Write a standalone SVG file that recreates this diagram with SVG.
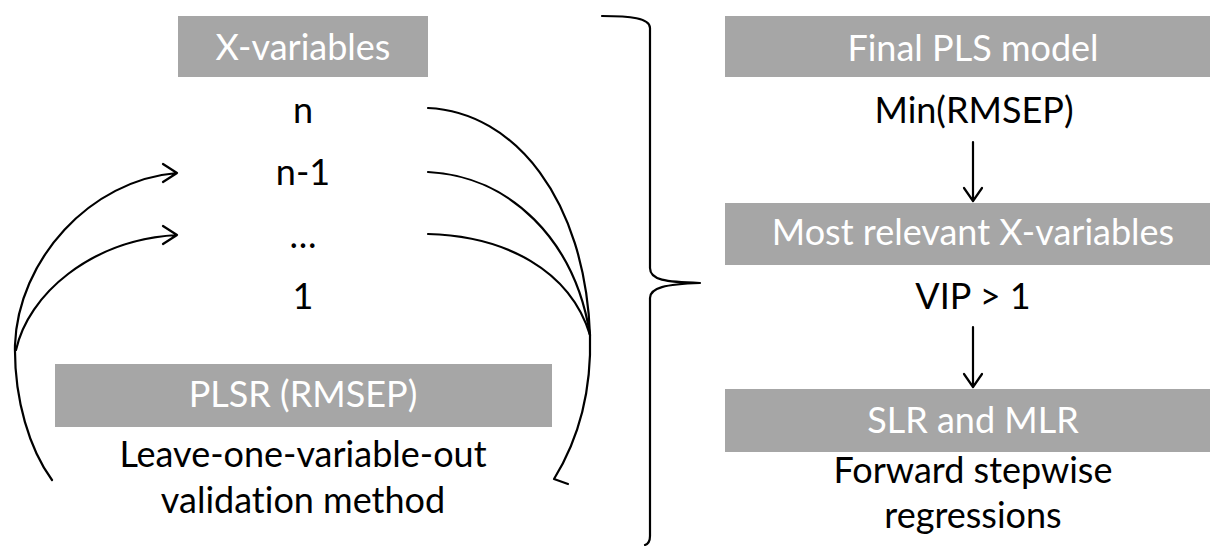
<svg xmlns="http://www.w3.org/2000/svg" width="1210" height="546" viewBox="0 0 1210 546">
<style>
.box{fill:#a6a6a6}
.bt{font-family:Lato,"Liberation Sans",sans-serif;font-size:36px;fill:#ffffff;text-anchor:middle;font-variant-ligatures:none}
.t{font-family:Lato,"Liberation Sans",sans-serif;font-size:36px;fill:#000000;text-anchor:middle;font-variant-ligatures:none}
.ln{fill:none;stroke:#000;stroke-width:2.2;stroke-linecap:round;stroke-linejoin:round}
</style>
<rect width="1210" height="546" fill="#ffffff"/>
<g id="x-variables"><rect class="box" x="178" y="16" width="250" height="61"/><text class="bt" x="303" y="60">X-variables</text></g>
<g id="n"><text class="t" x="303" y="123">n</text></g>
<g id="n-1"><text class="t" x="303" y="185">n-1</text></g>
<g id="dots"><text class="t" x="303" y="248">…</text></g>
<g id="one"><text class="t" x="303" y="309">1</text></g>
<g id="plsr"><rect class="box" x="55" y="364" width="497" height="63"/><text class="bt" x="303" y="407">PLSR (RMSEP)</text></g>
<g id="loo"><text class="t" x="303" y="467">Leave-one-variable-out</text><text class="t" x="303" y="513">validation method</text></g>
<g id="final"><rect class="box" x="725" y="16" width="485" height="61"/><text class="bt" x="973" y="61">Final PLS model</text></g>
<g id="min"><text class="t" x="974" y="123">Min(RMSEP)</text></g>
<g id="relevant"><rect class="box" x="725" y="203" width="485" height="62"/><text class="bt" x="973" y="245">Most relevant X-variables</text></g>
<g id="vip"><text class="t" x="973" y="309">VIP &gt; 1</text></g>
<g id="slr"><rect class="box" x="725" y="389" width="485" height="63"/><text class="bt" x="973" y="433">SLR and MLR</text></g>
<g id="fwd"><text class="t" x="973" y="483">Forward stepwise</text><text class="t" x="973" y="528">regressions</text></g>
<g id="connectors">
<path class="ln" d="M973 142 L973 201 M964 188 L973 201 L982 188"/>
<path class="ln" d="M973 327 L973 387 M964 374 L973 387 L982 374"/>
<path class="ln" d="M52 480 C30 450 14 400 15 345 C18 260 90 180 177 173 M163 164 L177 173 L163 182"/>
<path class="ln" d="M16 350 C28 295 90 240 177 235 M163 226 L177 235 L163 244"/>
<path class="ln" d="M428 108 C515 112 585 200 590 335"/>
<path class="ln" d="M428 172 C510 176 575 240 590 335"/>
<path class="ln" d="M428 234 C505 236 570 270 590 335"/>
<path class="ln" d="M590 335 C592 400 575 445 554 479 L568 484"/>
<path class="ln" d="M602 16 C630 16 650 18 650 28 L650 268 C650 280 665 282 700 283 C665 284 650 288 650 298 L650 536 C650 542 648 544 645 545"/>
</g>
</svg>
